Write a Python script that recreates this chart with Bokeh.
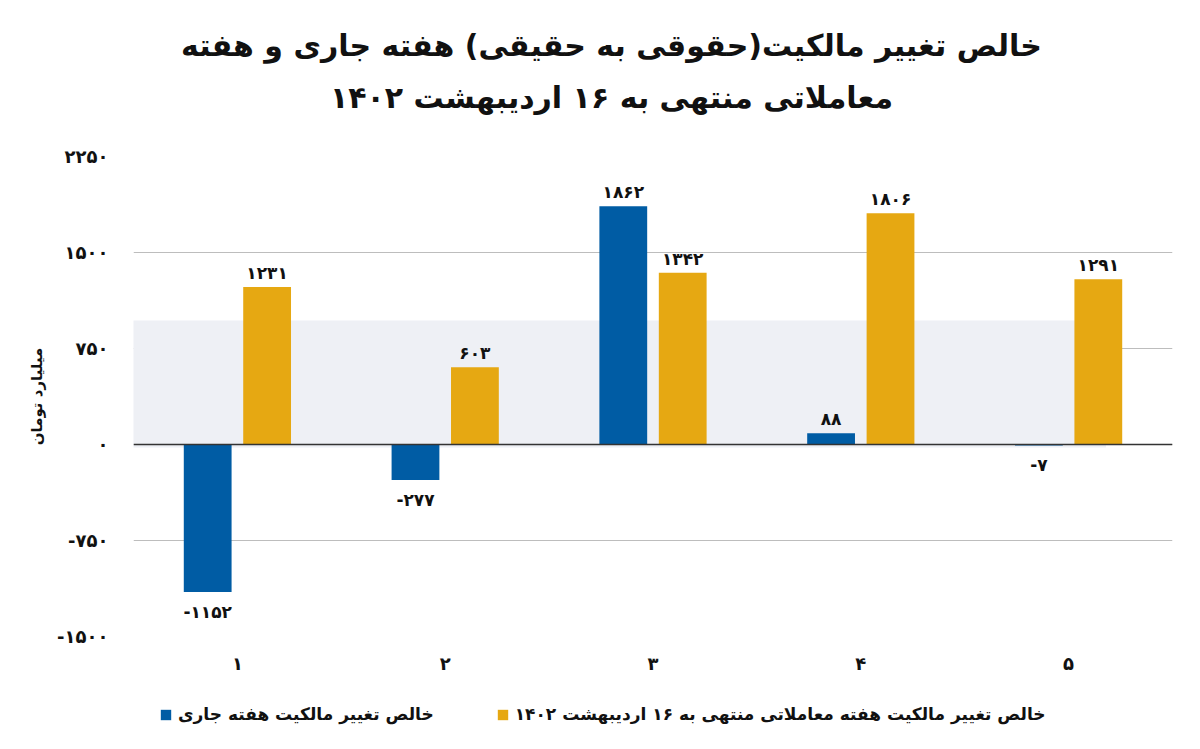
from bokeh.plotting import figure
from bokeh.layouts import column
from bokeh.models import (ColumnDataSource, FactorRange, Range1d, FixedTicker,
                          Legend, LegendItem, BoxAnnotation, Span)
from bokeh.transform import dodge
from bokeh.core.properties import value
from bokeh.embed import file_html
from bokeh.resources import INLINE

# ---------------- data ----------------
categories = ["۱", "۲", "۳", "۴", "۵"]
current_week = [-1152, -277, 1862, 88, -7]
week_to_16_ordibehesht = [1231, 603, 1342, 1806, 1291]
y_ticks = [-1500, -750, 0, 750, 1500, 2250]
y_tick_labels = ["-۱۵۰۰", "-۷۵۰", "۰", "۷۵۰", "۱۵۰۰", "۲۲۵۰"]
series_names = ["خالص تغییر مالکیت هفته جاری",
                "خالص تغییر مالکیت هفته معاملاتی منتهی به ۱۶ اردیبهشت ۱۴۰۲"]
title_lines = ["خالص تغییر مالکیت(حقوقی به حقیقی) هفته جاری و هفته",
               "معاملاتی منتهی به ۱۶ اردیبهشت ۱۴۰۲"]
y_axis_label = "میلیارد تومان"

FA_DIGITS = str.maketrans("0123456789", "۰۱۲۳۴۵۶۷۸۹")
def fa(n):
    return str(n).translate(FA_DIGITS)

FONT = "DejaVu Sans"
BLUE = "#005CA4"
GOLD = "#E6A812"
INK = "#111111"
W = 1200

def strip(height):
    f = figure(width=W, height=height, x_range=Range1d(0, W), y_range=Range1d(0, height),
               output_backend="svg", toolbar_location=None, min_border=0,
               x_axis_type=None, y_axis_type=None)
    f.grid.visible = False
    f.outline_line_color = None
    return f

# ---------------- title strip ----------------
TH = 140
pt = strip(TH)
title_src = ColumnDataSource(dict(x=[552, 552], y=[TH - 45, TH - 97], t=title_lines))
pt.text(x="x", y="y", text="t", source=title_src, text_align="center", text_baseline="middle",
        text_font=value(FONT), text_font_style="bold", text_font_size="30px", text_color=INK)

# ---------------- main chart ----------------
def label_cols(vals):
    return dict(
        lbl=[fa(v) for v in vals],
        off=[-14 if v >= 0 else 20 for v in vals],
    )

src_a = ColumnDataSource(dict(cat=categories, val=current_week, **label_cols(current_week)))
src_b = ColumnDataSource(dict(cat=categories, val=week_to_16_ordibehesht, **label_cols(week_to_16_ordibehesht)))

FW, FH, BOTTOM = 1039, 480, 50
p = figure(frame_width=FW, frame_height=FH, x_range=FactorRange(*categories),
           y_range=Range1d(-1500, 2250), output_backend="svg", toolbar_location=None,
           min_border_left=133, min_border_right=28, min_border_top=16, min_border_bottom=BOTTOM)

# watermark-like light band
p.add_layout(BoxAnnotation(left=-0.2, right=4.68, bottom=-23, top=969,
                           fill_color="#eef0f5", fill_alpha=1.0, line_color=None, level="underlay"))

bar_w = 0.23
p.vbar(x=dodge("cat", -0.143, range=p.x_range), top="val", bottom=0, width=bar_w,
       source=src_a, fill_color=BLUE, line_color=None)
p.vbar(x=dodge("cat", 0.143, range=p.x_range), top="val", bottom=0, width=bar_w,
       source=src_b, fill_color=GOLD, line_color=None)

for src, dx in ((src_a, -0.143), (src_b, 0.143)):
    p.text(x=dodge("cat", dx, range=p.x_range), y="val", text="lbl", y_offset="off",
           source=src, text_align="center", text_baseline="middle",
           text_font=value(FONT), text_font_style="bold", text_font_size="17px",
           text_color=INK)

p.add_layout(Span(location=0, dimension="width", line_color="#333333", line_width=1.5))

# axes
p.yaxis.ticker = FixedTicker(ticks=y_ticks)
p.yaxis.major_label_overrides = {t: s for t, s in zip(y_ticks, y_tick_labels)}
for ax in (p.xaxis[0], p.yaxis[0]):
    ax.axis_line_color = None
    ax.major_tick_line_color = None
    ax.minor_tick_line_color = None
    ax.major_tick_out = 0
    ax.major_tick_in = 0
    ax.minor_tick_out = 0
    ax.major_label_text_font = FONT
    ax.major_label_text_font_style = "bold"
    ax.major_label_text_font_size = "18px"
    ax.major_label_text_color = INK
p.yaxis.major_label_standoff = 25
p.xaxis.major_label_standoff = 16
p.yaxis.axis_label = y_axis_label
p.yaxis.axis_label_text_font = FONT
p.yaxis.axis_label_text_font_style = "bold"
p.yaxis.axis_label_text_font_size = "15px"
p.yaxis.axis_label_text_color = INK
p.yaxis.axis_label_standoff = 8

p.xgrid.grid_line_color = None
p.ygrid.grid_line_color = "#bdbdbd"
p.ygrid.grid_line_width = 1
p.outline_line_color = None

# ---------------- legend strip ----------------
LH = 749 - TH - (16 + FH + BOTTOM)
pl = strip(LH)
# zero-height proxy bars: they draw nothing, they only give the legend its swatches
proxy = ColumnDataSource(dict(x=[0], top=[0]))
ka = pl.vbar(x="x", top="top", bottom=0, width=1, source=proxy, fill_color=BLUE, line_color=None)
kb = pl.vbar(x="x", top="top", bottom=0, width=1, source=proxy, fill_color=GOLD, line_color=None)
legend = Legend(items=[LegendItem(label=series_names[0], renderers=[ka]),
                       LegendItem(label=series_names[1], renderers=[kb])],
                orientation="horizontal", location=(26, LH - 26 - 20 + 8),
                label_text_font=FONT, label_text_font_style="bold", label_text_font_size="17px",
                label_text_color=INK, glyph_width=13, glyph_height=13,
                spacing=62, border_line_color=None, background_fill_alpha=0,
                label_standoff=6)
pl.add_layout(legend)

layout = column(pt, p, pl, spacing=0)
open("out.html", "w").write(file_html(layout, INLINE))
